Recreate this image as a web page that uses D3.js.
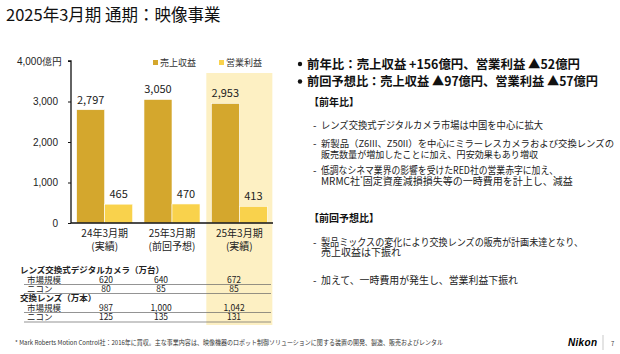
<!DOCTYPE html>
<html lang="ja">
<head>
<meta charset="UTF-8">
<title>2025年3月期 通期：映像事業</title>
<style>
  body { margin: 0; background: #fff; }
  svg { display: block; font-family: "Noto Sans CJK JP", "Noto Sans", sans-serif; }
  .tick text { font-size: 10px; fill: #222; }
</style>
</head>
<body>
<svg id="chart" width="620" height="354"></svg>
<script src="https://d3js.org/d3.v7.min.js"></script>
<script>
// chart data
var periods = ["24年3月期", "25年3月期", "25年3月期"];
var periodNotes = ["(実績)", "(前回予想)", "(実績)"];
var sales = [2797, 3050, 2953];
var profit = [465, 470, 413];
var yTicks = [0, 1000, 2000, 3000, 4000];
var seriesNames = ["売上収益", "営業利益"];

// table under the chart
var tableGroups = ["レンズ交換式デジタルカメラ（万台）", "交換レンズ（万本）"];
var rowNames = ["市場規模", "ニコン"];
var cameraMarket = [620, 640, 672];
var cameraNikon = [80, 85, 85];
var lensMarket = [987, 1000, 1042];
var lensNikon = [125, 135, 131];

var svg = d3.select("#chart");
var colSales = "#D4A72D", colProfit = "#F9D24C", colBand = "#FDF0C3";

// title
svg.append("text").attr("x", 6).attr("y", 21)
    .attr("font-size", 16.5).attr("fill", "#111")
    .text("2025年3月期 通期：映像事業");

// scales
var x = d3.scaleBand().domain(d3.range(3)).range([71, 273])
    .paddingInner(0.168).paddingOuter(0.084);
var y = d3.scaleLinear().domain([0, 4000]).range([223, 61]);
var bw = x.bandwidth() / 2;

// highlight band for the latest period
svg.append("rect")
    .attr("x", x(2) - 5).attr("y", 73)
    .attr("width", x.bandwidth() + 10).attr("height", 252)
    .attr("fill", colBand);

// bars
var g = svg.append("g");
g.selectAll(".sales").data(sales).enter().append("rect")
    .attr("x", function (d, i) { return x(i); })
    .attr("y", function (d) { return y(d); })
    .attr("width", bw).attr("height", function (d) { return y(0) - y(d); })
    .attr("fill", colSales).attr("stroke", "#fff").attr("stroke-width", 0.6);
g.selectAll(".profit").data(profit).enter().append("rect")
    .attr("x", function (d, i) { return x(i) + bw; })
    .attr("y", function (d) { return y(d); })
    .attr("width", bw).attr("height", function (d) { return y(0) - y(d); })
    .attr("fill", colProfit).attr("stroke", "#fff").attr("stroke-width", 0.6);

// value labels
g.selectAll(".sl").data(sales).enter().append("text")
    .attr("x", function (d, i) { return x(i) + bw / 2; })
    .attr("y", function (d) { return y(d) - 6; })
    .attr("text-anchor", "middle").attr("font-size", 11).attr("fill", "#222")
    .text(d3.format(","));
g.selectAll(".pl").data(profit).enter().append("text")
    .attr("x", function (d, i) { return x(i) + bw * 1.5; })
    .attr("y", function (d) { return y(d) - 6; })
    .attr("text-anchor", "middle").attr("font-size", 11).attr("fill", "#222")
    .text(d3.format(","));

// y axis
var yAxis = svg.append("g").attr("transform", "translate(71,0)")
    .call(d3.axisLeft(y).tickValues(yTicks).tickSize(3).tickPadding(10)
        .tickFormat(function (d) { return d === 4000 ? "4,000億円" : d3.format(",")(d); }));
yAxis.select(".domain").attr("d", "M-3," + y(4000) + "H0V" + y(0)).attr("stroke", "#111").attr("stroke-width", 1.3);
yAxis.selectAll(".tick line").attr("stroke", "#111");
yAxis.selectAll(".tick text").filter(function (d) { return d === 4000; }).attr("dx", 4);

// x axis line
svg.append("line").attr("x1", 71).attr("x2", 273).attr("y1", y(0)).attr("y2", y(0))
    .attr("stroke", "#111").attr("stroke-width", 1.5);

// category labels (two lines in one text)
var cat = svg.append("g").selectAll("text").data(periods).enter().append("text")
    .attr("text-anchor", "middle").attr("font-size", 10).attr("fill", "#222");
cat.append("tspan")
    .attr("x", function (d, i) { return x(i) + x.bandwidth() / 2; })
    .attr("y", 237).text(function (d) { return d; });
cat.append("tspan")
    .attr("x", function (d, i) { return x(i) + x.bandwidth() / 2; })
    .attr("y", 250).text(function (d, i) { return periodNotes[i]; });

// legend
var legend = svg.append("g").selectAll("g").data(seriesNames).enter().append("g")
    .attr("transform", function (d, i) { return "translate(" + (153 + i * 66) + ",60)"; });
legend.append("rect").attr("width", 5).attr("height", 5)
    .attr("fill", function (d, i) { return i ? colProfit : colSales; });
legend.append("text").attr("x", 7).attr("y", 6).attr("font-size", 9).attr("fill", "#333")
    .text(function (d) { return d; });

// table
var tableCols = [106, 161, 234];
var tableRows = [
    { label: tableGroups[0], head: true, y: 273 },
    { label: rowNames[0], vals: cameraMarket, y: 282.5 },
    { label: rowNames[1], vals: cameraNikon, y: 291.5 },
    { label: tableGroups[1], head: true, y: 301 },
    { label: rowNames[0], vals: lensMarket, y: 310.5 },
    { label: rowNames[1], vals: lensNikon, y: 320 }
];
var tbl = svg.append("g").attr("fill", "#222");
tableRows.forEach(function (r) {
    tbl.append("text").attr("x", r.head ? 20 : 27).attr("y", r.y)
        .attr("font-size", 8.5).attr("font-weight", r.head ? "bold" : "normal")
        .text(r.label);
    if (r.vals) {
        r.vals.forEach(function (v, i) {
            tbl.append("text").attr("x", tableCols[i]).attr("y", r.y)
                .attr("text-anchor", "middle").attr("font-size", 8.5)
                .text(d3.format(",")(v));
        });
        tbl.append("line").attr("x1", 24).attr("x2", 271)
            .attr("y1", r.y + 2).attr("y2", r.y + 2)
            .attr("stroke", "#666").attr("stroke-width", 0.7);
    }
});

// right side commentary
var rt = svg.append("g").attr("fill", "#111");
function bullet(text, yy, width) {
    rt.append("circle").attr("cx", 300).attr("cy", yy - 4.5).attr("r", 2.2);
    rt.append("text").attr("x", 307).attr("y", yy).attr("font-size", 12.5)
        .attr("font-weight", "bold").attr("textLength", width).attr("lengthAdjust", "spacingAndGlyphs")
        .text(text);
}
bullet("前年比：売上収益 +156億円、営業利益 ▲52億円", 68.5, 273);
bullet("前回予想比：売上収益 ▲97億円、営業利益 ▲57億円", 86, 291);

function head(text, yy) {
    rt.append("text").attr("x", 309).attr("y", yy).attr("font-size", 10)
        .attr("font-weight", "bold").text(text);
}
// one dashed item; lines = [[text, width], ...]
function item(lines, yy, fs) {
    rt.append("text").attr("x", 313).attr("y", yy).attr("font-size", 10).text("-");
    var t = rt.append("text").attr("font-size", fs || 10).attr("fill", "#222");
    lines.forEach(function (l, i) {
        var s = t.append("tspan").attr("x", 321).attr("y", yy + i * 10.7);
        if (l[1]) s.attr("textLength", l[1]).attr("lengthAdjust", "spacingAndGlyphs");
        s.text(l[0]);
    });
    return t;
}
head("【前年比】", 105.5);
item([["レンズ交換式デジタルカメラ市場は中国を中心に拡大", 222]], 129);
item([["新製品（Z6III、Z50II）を中心にミラーレスカメラおよび交換レンズの", 293],
      ["販売数量が増加したことに加え、円安効果もあり増収", 217]], 147, 9.6);
var red = item([["低調なシネマ業界の影響を受けたRED社の営業赤字に加え、", 237]], 174);
var mr = red.append("tspan").attr("x", 321).attr("y", 184.7);
red.append("tspan").text("MRMC社").attr("x", 321).attr("y", 184.7);
mr.remove();
red.append("tspan").attr("font-size", 6).attr("dy", -3.5).text("*");
red.append("tspan").attr("dy", 3.5).text("固定資産減損損失等の一時費用を計上し、減益");
head("【前回予想比】", 222);
item([["製品ミックスの変化により交換レンズの販売が計画未達となり、", 262],
      ["売上収益は下振れ", 0]], 245.5);
item([["加えて、一時費用が発生し、営業利益下振れ", 197]], 284);

// footnote
svg.append("text").attr("x", 15).attr("y", 345).attr("font-size", 6.5).attr("fill", "#333")
    .attr("textLength", 428).attr("lengthAdjust", "spacingAndGlyphs")
    .text("* Mark Roberts Motion Control社：2016年に買収。主な事業内容は、映像機器のロボット制御ソリューションに関する装置の開発、製造、販売およびレンタル");

// logo and page number
svg.append("text").attr("x", 568).attr("y", 346).attr("font-size", 10)
    .attr("font-family", "Liberation Sans, Arial, sans-serif")
    .attr("font-weight", "bold").attr("font-style", "italic").attr("fill", "#000")
    .attr("textLength", 29).text("Nikon");
svg.append("line").attr("x1", 603).attr("x2", 603).attr("y1", 335).attr("y2", 350)
    .attr("stroke", "#bbb").attr("stroke-width", 0.8);
svg.append("text").attr("x", 611).attr("y", 346).attr("font-size", 6).attr("fill", "#333").text("7");
</script>
</body>
</html>
